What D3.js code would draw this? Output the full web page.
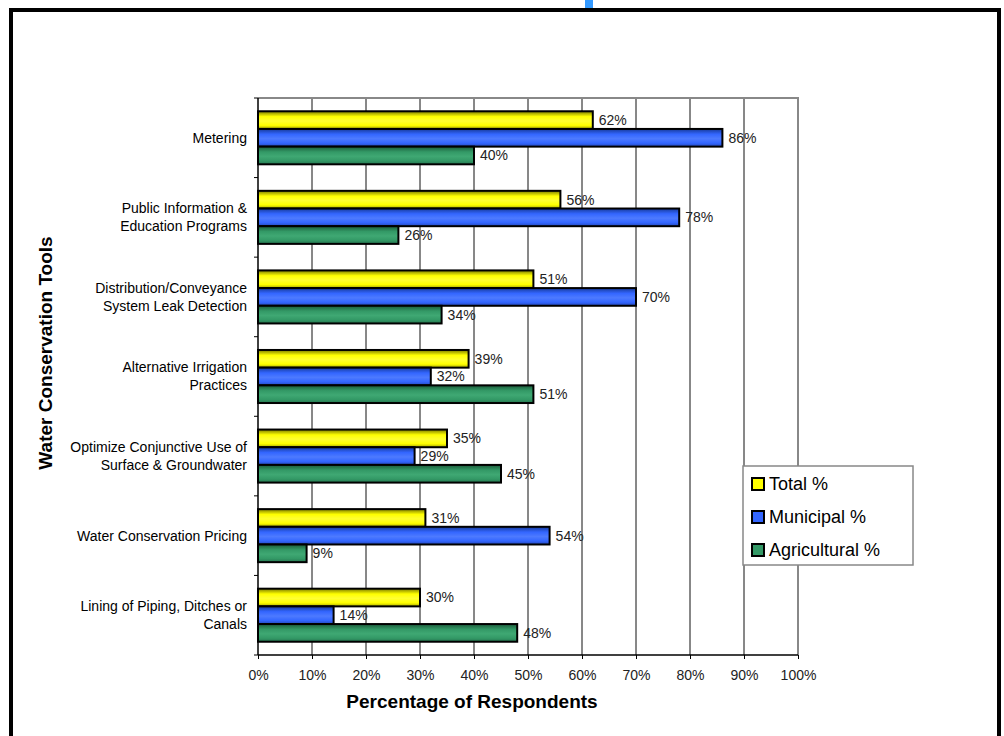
<!DOCTYPE html>
<html>
<head>
<meta charset="utf-8">
<script src="https://cdn.jsdelivr.net/npm/d3@7"></script>
<style>
	body { margin: 0; background: #fff; }
	svg text { font-family: "Liberation Sans", Arial, sans-serif; fill: #000; }
</style>
</head>
<body>
<div id="chart"></div>
<script>
// categories, top to bottom (lines split for the two-line labels)
var categories = [
	["Metering"],
	["Public Information &", "Education Programs"],
	["Distribution/Conveyance", "System Leak Detection"],
	["Alternative Irrigation", "Practices"],
	["Optimize Conjunctive Use of", "Surface & Groundwater"],
	["Water Conservation Pricing"],
	["Lining of Piping, Ditches or", "Canals"]
];
var seriesNames = ["Total %", "Municipal %", "Agricultural %"];
var totalValues = [62, 56, 51, 39, 35, 31, 30];
var municipalValues = [86, 78, 70, 32, 29, 54, 14];
var agriculturalValues = [40, 26, 34, 51, 45, 9, 48];
var xTicks = [0, 10, 20, 30, 40, 50, 60, 70, 80, 90, 100];

var seriesColors = [
	{ dark: "#7a7a00", mid: "#ffff00", light: "#ffff33", edge: "#a8a800" },
	{ dark: "#173a99", mid: "#3366ff", light: "#4d7aff", edge: "#2548b8" },
	{ dark: "#1c5a3a", mid: "#339966", light: "#3fa873", edge: "#267550" }
];

var width = 1004, height = 736;
var plot = { left: 258, right: 798, top: 98, bottom: 655 };

var svg = d3.select("#chart").append("svg")
	.attr("width", width)
	.attr("height", height);

// gradients for the shaded bars
var defs = svg.append("defs");
seriesColors.forEach(function (c, i) {
	var g = defs.append("linearGradient")
		.attr("id", "grad" + i)
		.attr("x1", 0).attr("y1", 0).attr("x2", 0).attr("y2", 1);
	g.append("stop").attr("offset", "0%").attr("stop-color", c.dark);
	g.append("stop").attr("offset", "30%").attr("stop-color", c.mid);
	g.append("stop").attr("offset", "55%").attr("stop-color", c.light);
	g.append("stop").attr("offset", "80%").attr("stop-color", c.mid);
	g.append("stop").attr("offset", "100%").attr("stop-color", c.edge);
});

// outer frame and the little blue mark above it
svg.append("rect")
	.attr("x", 585).attr("y", 0)
	.attr("width", 8).attr("height", 9)
	.style("fill", "#3399ff");

svg.append("rect")
	.attr("x", 11).attr("y", 10)
	.attr("width", 988).attr("height", 740)
	.style("fill", "none")
	.style("stroke", "#000")
	.style("stroke-width", 4);

var x = d3.scaleLinear()
	.domain([0, 100])
	.range([plot.left, plot.right]);

var y = d3.scaleBand()
	.domain(d3.range(categories.length))
	.range([plot.top, plot.bottom]);

var ySub = d3.scaleBand()
	.domain(d3.range(seriesNames.length))
	.range([0, y.bandwidth()])
	.paddingOuter(0.75);

// gridlines
svg.append("g")
	.selectAll("line")
	.data(xTicks.slice(1, -1))
	.enter().append("line")
	.attr("x1", function (d) { return x(d); })
	.attr("x2", function (d) { return x(d); })
	.attr("y1", plot.top)
	.attr("y2", plot.bottom)
	.style("stroke", "#111")
	.style("stroke-width", 1);

// plot border (top and right, grey)
svg.append("path")
	.attr("d", "M" + plot.left + "," + plot.top + "H" + plot.right + "V" + plot.bottom)
	.style("fill", "none")
	.style("stroke", "#888")
	.style("stroke-width", 2);

// bars
var rows = categories.map(function (c, i) {
	return [totalValues[i], municipalValues[i], agriculturalValues[i]];
});

var groups = svg.append("g")
	.selectAll("g")
	.data(rows)
	.enter().append("g")
	.attr("transform", function (d, i) { return "translate(0," + y(i) + ")"; });

groups.selectAll("rect")
	.data(function (d) { return d; })
	.enter().append("rect")
	.attr("x", x(0))
	.attr("y", function (d, j) { return ySub(j); })
	.attr("width", function (d) { return x(d) - x(0); })
	.attr("height", ySub.bandwidth())
	.style("fill", function (d, j) { return "url(#grad" + j + ")"; })
	.style("stroke", "#000")
	.style("stroke-width", 2);

groups.selectAll("text")
	.data(function (d) { return d; })
	.enter().append("text")
	.attr("x", function (d) { return x(d) + 6; })
	.attr("y", function (d, j) { return ySub(j) + ySub.bandwidth() / 2; })
	.attr("dy", "0.35em")
	.attr("font-size", 14)
	.style("fill", "#222")
	.text(function (d) { return d + "%"; });

// axes
var xAxis = d3.axisBottom(x)
	.tickValues(xTicks)
	.tickSize(4)
	.tickFormat(function (d) { return d + "%"; });

var xg = svg.append("g")
	.attr("transform", "translate(0," + plot.bottom + ")")
	.call(xAxis);
xg.select(".domain").attr("d", "M" + plot.left + ",0H" + plot.right).style("stroke", "#000").style("stroke-width", 1.5);
xg.selectAll(".tick line").style("stroke", "#000");
xg.selectAll(".tick text")
	.attr("y", 15)
	.attr("font-size", 14)
	.style("font-family", "'Liberation Sans', Arial, sans-serif")
	.style("fill", "#222");

var yg = svg.append("g")
	.attr("transform", "translate(" + plot.left + ",0)");
yg.append("line")
	.attr("y1", plot.top).attr("y2", plot.bottom)
	.style("stroke", "#000")
	.style("stroke-width", 1.5);
yg.selectAll("line.tick")
	.data(d3.range(categories.length + 1))
	.enter().append("line")
	.attr("class", "tick")
	.attr("x1", -4).attr("x2", 0)
	.attr("y1", function (i) { return plot.top + i * y.step(); })
	.attr("y2", function (i) { return plot.top + i * y.step(); })
	.style("stroke", "#000");

// category labels
var catLabels = svg.append("g")
	.selectAll("text")
	.data(categories)
	.enter().append("text")
	.attr("text-anchor", "end")
	.attr("font-size", 14)
	.attr("transform", function (d, i) {
		return "translate(247," + (y(i) + y.bandwidth() / 2) + ")";
	});

catLabels.selectAll("tspan")
	.data(function (d) { return d; })
	.enter().append("tspan")
	.attr("x", 0)
	.attr("y", function (t, k, nodes) {
		return (k - (nodes.length - 1) / 2) * 18;
	})
	.attr("dy", "0.35em")
	.text(function (t) { return t; });

// axis titles
svg.append("text")
	.attr("x", 472)
	.attr("y", 708)
	.attr("text-anchor", "middle")
	.attr("font-size", 19)
	.attr("font-weight", "bold")
	.text("Percentage of Respondents");

svg.append("text")
	.attr("transform", "translate(52,353)rotate(-90)")
	.attr("text-anchor", "middle")
	.attr("font-size", 19)
	.attr("font-weight", "bold")
	.text("Water Conservation Tools");

// legend
var legend = svg.append("g")
	.attr("transform", "translate(743,466)");

legend.append("rect")
	.attr("width", 170)
	.attr("height", 99)
	.style("fill", "#fff")
	.style("stroke", "#888")
	.style("stroke-width", 1.5);

var items = legend.selectAll("g")
	.data(seriesNames)
	.enter().append("g")
	.attr("transform", function (d, i) { return "translate(9," + (18 + i * 33) + ")"; });

items.append("rect")
	.attr("x", 0).attr("y", -6)
	.attr("width", 12).attr("height", 12)
	.style("fill", function (d, i) { return seriesColors[i].mid; })
	.style("stroke", "#000")
	.style("stroke-width", 2);

items.append("text")
	.attr("x", 17)
	.attr("dy", "0.36em")
	.attr("font-size", 18)
	.text(function (d) { return d; });
</script>
</body>
</html>
